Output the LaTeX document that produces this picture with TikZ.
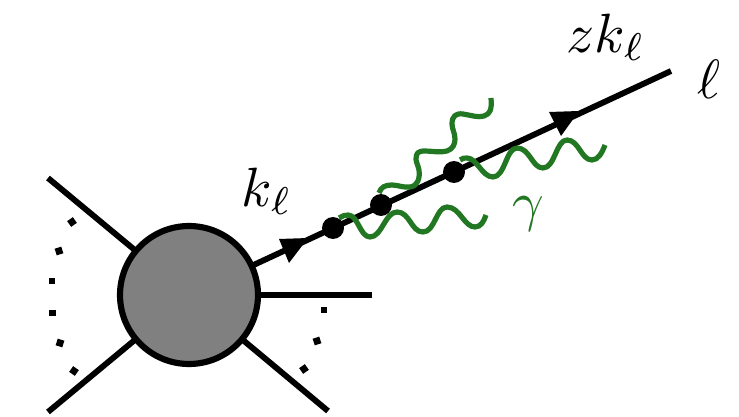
\documentclass[tikz,border=0pt]{standalone}
\usepackage{amsmath}
\usepackage{graphicx}
\definecolor{photon}{RGB}{34,120,34}
\newcommand{\biglab}[1]{\scalebox{4.15}{$#1$}}
\tikzset{
  leg/.style={draw=black,line width=4.4pt},
  blob/.style={circle,draw=black,fill=black!50,line width=4.6pt,minimum size=138*0.75pt,inner sep=0pt},
  vertexdot/.style={circle,fill=black,minimum size=16.5pt,inner sep=0pt},
  dotmark/.style={rectangle,fill=black,minimum size=5.2pt,inner sep=0pt},
  wave/.style={draw=photon,line width=3.9pt,line cap=butt,line join=round},
  headtip/.style={fill=black},
  lab/.style={inner sep=0pt},
  laby/.style={inner sep=0pt,text=photon}
}
\begin{document}
\begin{tikzpicture}[x=0.75pt,y=-0.75pt]
\useasboundingbox (0,0) rectangle (739,417);
% outer ends
\coordinate (a1) at (48,178);
\coordinate (a2) at (48,412);
\coordinate (a3) at (372,295);
\coordinate (a4) at (328,411);
\coordinate (a5) at (671,71);
\coordinate (b) at (189,295);
\draw[leg] (a1) -- (b);
\draw[leg] (a2) -- (b);
\draw[leg] (a3) -- (b);
\draw[leg] (a4) -- (b);
\draw[leg] (a5) -- (b);
\node[blob] (blob) at (b) {};
% arrowheads
\fill[headtip] (279,239) -- (308,238) -- (289,263) -- cycle;
\fill[headtip] (549,112) -- (579,111) -- (561,136) -- cycle;
% photons
\draw[wave] (339,218) .. controls (342,216) and (345,215) .. (348,215)
  .. controls (358,215) and (360,237) .. (370,237)
  .. controls (382,237) and (385,212) .. (397,212)
  .. controls (410,212) and (411,232) .. (423,232)
  .. controls (435,232) and (436,207) .. (447,207)
  .. controls (460,207) and (464,227) .. (475,227)
  .. controls (481,227) and (484,221) .. (486,215);
\draw[wave] (379,193) .. controls (381,187) and (385,185) .. (392,185)
  .. controls (398,185) and (404,188) .. (410,187)
  .. controls (418,186) and (420,178) .. (419,170)
  .. controls (418,165) and (416,162) .. (416,159)
  .. controls (416,153) and (418,151) .. (425,151)
  .. controls (432,151) and (440,153) .. (447,151)
  .. controls (453,149) and (455,144) .. (455,139)
  .. controls (455,133) and (452,129) .. (452,124)
  .. controls (452,116) and (456,113) .. (463,114)
  .. controls (470,115) and (478,118) .. (484,116)
  .. controls (490,114) and (492,110) .. (491,98);
\draw[wave] (460,160) .. controls (462,158) and (465,158) .. (467,158)
  .. controls (477,158) and (482,177) .. (493,177)
  .. controls (505,177) and (506,148) .. (517,148)
  .. controls (530,148) and (532,168) .. (543,168)
  .. controls (555,168) and (556,140) .. (567,140)
  .. controls (579,140) and (581,160) .. (592,160)
  .. controls (598,160) and (602,153) .. (605,145);
% vertices
\node[vertexdot] (v1) at (333,228) {};
\node[vertexdot] (v2) at (381,205) {};
\node[vertexdot] (v3) at (454,172) {};
% dots
\foreach \p/\q/\r in {72/222/35,59/251/18,52/281/0,52.5/313/0,60/343/-18,74/371/-35,324/310/0,317/341/18,304/369/35}
  \node[dotmark,rotate=\r] at (\p,\q) {};
% labels
\node[lab] (kl) at (267,191) {\biglab{k_\ell}};
\node[lab] (zkl) at (606,37) {\biglab{zk_\ell}};
\node[lab] (el) at (709,79) {\biglab{\ell}};
\node[laby] (g) at (528,214) {\biglab{\gamma}};
\end{tikzpicture}
\end{document}
